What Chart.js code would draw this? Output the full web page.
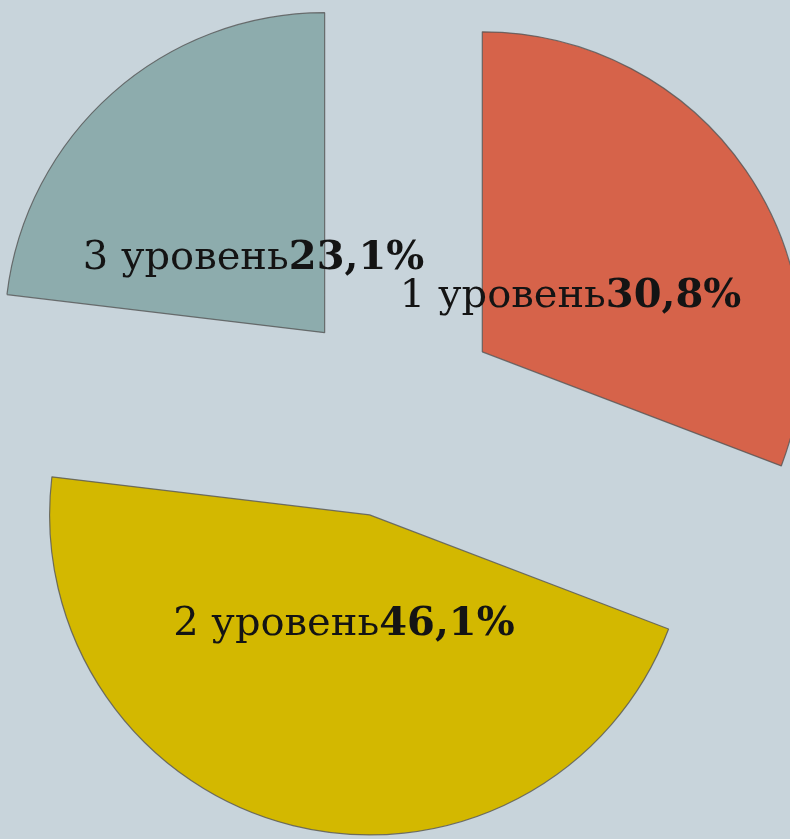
<!DOCTYPE html>
<html>
<head>
<meta charset="utf-8">
<script src="https://cdn.jsdelivr.net/npm/chart.js@4.4.1/dist/chart.umd.min.js"></script>
<style>
  html, body { margin: 0; padding: 0; background: #C8D4DB; }
  #wrap { width: 790px; height: 839px; }
</style>
</head>
<body>
<div id="wrap"><canvas id="chartLevels"></canvas></div>
<script>
// dados do grafico
const levels = ['1 уровень', '2 уровень', '3 уровень'];
const shares = [30.8, 46.1, 23.1];
const sliceColors = ['#D6634A', '#D3B800', '#8DACAD'];

const EXPLODE = 106; // afastamento de cada fatia a partir do centro
const FONT = '"DejaVu Serif", Georgia, serif';
const SIZE = 40;

// empurra cada fatia pra fora pelo angulo do meio (sem mexer no raio)
const explodePlugin = {
  id: 'explodeSlices',
  afterDatasetsUpdate(chart) {
    chart.getDatasetMeta(0).data.forEach((arc) => {
      const mid = (arc.startAngle + arc.endAngle) / 2;
      arc.x += Math.cos(mid) * EXPLODE;
      arc.y += Math.sin(mid) * EXPLODE;
    });
  },
};

// rotulo "N уровень" normal + percentual em negrito
const labelPlugin = {
  id: 'sliceLabels',
  afterDatasetsDraw(chart) {
    const { ctx } = chart;
    chart.getDatasetMeta(0).data.forEach((arc, i) => {
      const mid = (arc.startAngle + arc.endAngle) / 2;
      const dist = arc.outerRadius * 0.335;
      const x = arc.x + Math.cos(mid) * dist;
      const y = arc.y + Math.sin(mid) * dist;
      const name = levels[i];
      const pct = shares[i].toFixed(1).replace('.', ',') + '%';
      ctx.save();
      ctx.fillStyle = '#141414';
      ctx.textAlign = 'left';
      ctx.textBaseline = 'alphabetic';
      ctx.font = `400 ${SIZE}px ${FONT}`;
      const w1 = ctx.measureText(name).width;
      ctx.font = `700 ${SIZE}px ${FONT}`;
      const w2 = ctx.measureText(pct).width;
      const left = x - (w1 + w2) / 2;
      ctx.font = `400 ${SIZE}px ${FONT}`;
      ctx.fillText(name, left, y + 16);
      ctx.font = `700 ${SIZE}px ${FONT}`;
      ctx.fillText(pct, left + w1, y + 16);
      ctx.restore();
    });
  },
};

new Chart(document.getElementById('chartLevels'), {
  type: 'pie',
  data: {
    labels: levels,
    datasets: [{
      data: shares,
      backgroundColor: sliceColors,
      borderColor: 'rgba(85,85,85,.8)',
      borderWidth: 1.2,
    }],
  },
  options: {
    responsive: true,
    maintainAspectRatio: false,
    animation: false,
    events: [],
    radius: 320,
    layout: { padding: { bottom: 15 } },
    plugins: { legend: { display: false }, tooltip: { enabled: false } },
  },
  plugins: [explodePlugin, labelPlugin],
});
</script>
</body>
</html>
